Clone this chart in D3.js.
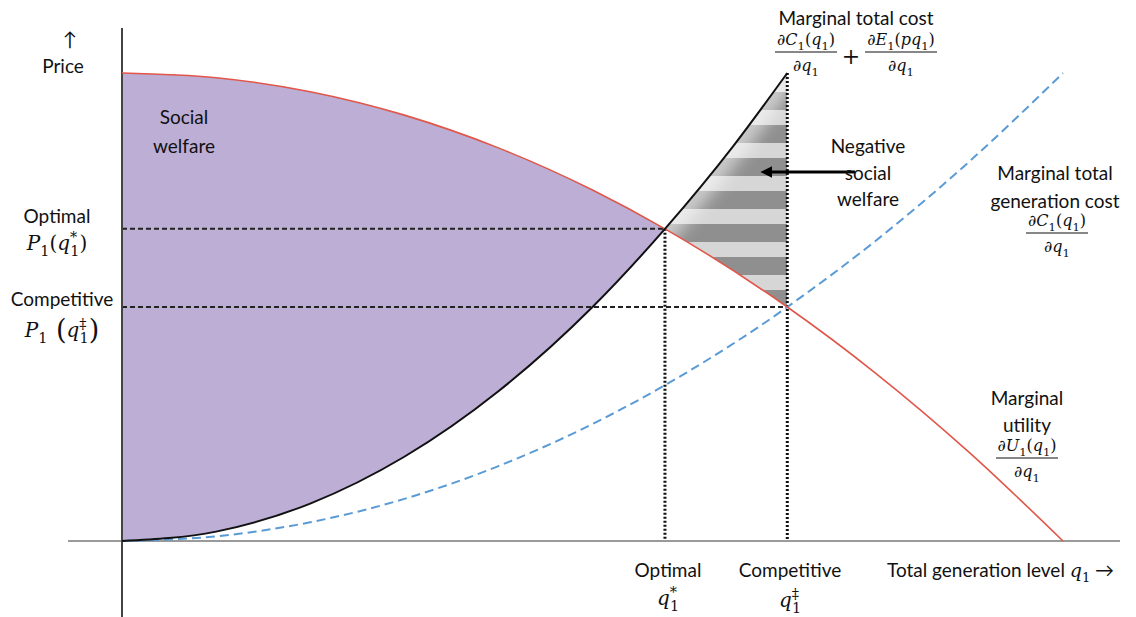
<!DOCTYPE html>
<html>
<head>
<meta charset="utf-8">
<script src="https://d3js.org/d3.v7.min.js"></script>
<style>
  body { margin: 0; background: #fff; }
  text { font-family: Lato, "Open Sans", sans-serif; fill: #111; }
</style>
</head>
<body>
<script>
'use strict';
var WIDTH = 1136, HEIGHT = 617;

// curve points (quantity q, price p)
var qUtility   = [0, 1, 2, 3, 4, 5, 5.77, 7.07, 8, 9, 10];
var pUtility   = [10, 9.9, 9.6, 9.1, 8.4, 7.5, 6.67, 5.0, 3.6, 1.9, 0];
var qTotalCost = [0, 1, 2, 3, 4, 5, 5.77, 6.5, 7.07];
var pTotalCost = [0, 0.2, 0.8, 1.8, 3.2, 5.0, 6.67, 8.45, 10.0];
var qGenCost   = [0, 1, 2, 3, 4, 5, 6, 7, 7.07, 8, 9, 10];
var pGenCost   = [0, 0.1, 0.4, 0.9, 1.6, 2.5, 3.6, 4.9, 5.0, 6.4, 8.1, 10];

var qOptimal = 5.77, pOptimal = 6.67;
var qCompetitive = 7.07, pCompetitive = 5.0;

var svg = d3.select('body').append('svg')
  .attr('width', WIDTH).attr('height', HEIGHT);

var x = d3.scaleLinear().domain([0, 10]).range([122, 1063]);
var y = d3.scaleLinear().domain([0, 10]).range([541, 73]);

function pts(qs, ps) { return qs.map(function (q, i) { return [q, ps[i]]; }); }
var utility = pts(qUtility, pUtility),
    totalCost = pts(qTotalCost, pTotalCost),
    genCost = pts(qGenCost, pGenCost);

var line = d3.line()
  .x(function (d) { return x(d[0]); })
  .y(function (d) { return y(d[1]); })
  .curve(d3.curveMonotoneX);

var defs = svg.append('defs');

// region below / above marginal utility
defs.append('clipPath').attr('id', 'belowU').append('path')
  .attr('d', line(utility) + 'L' + x(0) + ',' + y(0) + 'Z');
defs.append('clipPath').attr('id', 'aboveU').append('path')
  .attr('d', line(utility) + 'L' + x(10) + ',0L' + x(0) + ',0Z');

var costTop = line(totalCost);
var stripeArea = costTop + 'L' + x(qCompetitive) + ',' + y(0) + 'L' + x(qOptimal) + ',' + y(0) + 'Z';
defs.append('clipPath').attr('id', 'belowCost').append('path').attr('d', stripeArea);

// stripes
var pat = defs.append('pattern').attr('id', 'stripes')
  .attr('patternUnits', 'userSpaceOnUse')
  .attr('x', 0).attr('y', 11).attr('width', WIDTH).attr('height', 33);
pat.append('rect').attr('x', 0).attr('y', 0).attr('width', WIDTH).attr('height', 15)
  .attr('fill', '#d6d6d6');
pat.append('rect').attr('x', 0).attr('y', 15).attr('width', WIDTH).attr('height', 18)
  .attr('fill', '#8f8f8f');

defs.append('filter').attr('id', 'soft')
  .attr('x', '-50%').attr('y', '-50%').attr('width', '200%').attr('height', '200%')
  .append('feGaussianBlur').attr('stdDeviation', 8);

// social welfare (purple)
svg.append('g').attr('clip-path', 'url(#belowU)')
  .append('path')
  .attr('d', costTop + 'L' + x(qOptimal) + ',0L' + x(0) + ',0Z')
  .attr('fill', '#bdaed6');

// negative social welfare (stripes, faded near the cost curve)
var neg = svg.append('g').attr('clip-path', 'url(#aboveU)')
  .append('g').attr('clip-path', 'url(#belowCost)');
neg.append('path').attr('d', stripeArea).attr('fill', 'url(#stripes)');
neg.append('path').attr('d', costTop).attr('fill', 'none')
  .attr('stroke', '#fff').attr('stroke-width', 26).attr('stroke-opacity', 0.55)
  .attr('filter', 'url(#soft)');

// guide lines
svg.append('line')
  .attr('x1', x(0)).attr('x2', x(qOptimal)).attr('y1', y(pOptimal)).attr('y2', y(pOptimal))
  .attr('stroke', '#222').attr('stroke-width', 2).attr('stroke-dasharray', '5,3');
svg.append('line')
  .attr('x1', x(0)).attr('x2', x(qCompetitive)).attr('y1', y(pCompetitive)).attr('y2', y(pCompetitive))
  .attr('stroke', '#222').attr('stroke-width', 2).attr('stroke-dasharray', '5,3');
svg.append('line')
  .attr('x1', x(qOptimal)).attr('x2', x(qOptimal)).attr('y1', y(pOptimal)).attr('y2', y(0))
  .attr('stroke', '#111').attr('stroke-width', 3).attr('stroke-dasharray', '2,2');
svg.append('line')
  .attr('x1', x(qCompetitive)).attr('x2', x(qCompetitive)).attr('y1', y(10)).attr('y2', y(0))
  .attr('stroke', '#111').attr('stroke-width', 3).attr('stroke-dasharray', '2,2');

// axes
svg.append('line').attr('x1', 68).attr('x2', 1120).attr('y1', y(0)).attr('y2', y(0))
  .attr('stroke', '#9a9a9a').attr('stroke-width', 2);
svg.append('line').attr('x1', x(0)).attr('x2', x(0)).attr('y1', 28).attr('y2', HEIGHT)
  .attr('stroke', '#444').attr('stroke-width', 2);

// curves
svg.append('path').attr('d', line(genCost)).attr('fill', 'none')
  .attr('stroke', '#5b9bd5').attr('stroke-width', 2).attr('stroke-dasharray', '9,5');
svg.append('path').attr('d', line(utility)).attr('fill', 'none')
  .attr('stroke', '#e0574a').attr('stroke-width', 1.6);
svg.append('path').attr('d', line(totalCost)).attr('fill', 'none')
  .attr('stroke', '#111').attr('stroke-width', 2);

// arrow
defs.append('marker').attr('id', 'arrow')
  .attr('viewBox', '0 0 10 10').attr('refX', 2).attr('refY', 5)
  .attr('markerWidth', 4).attr('markerHeight', 4).attr('orient', 'auto')
  .append('path').attr('d', 'M0,0L10,5L0,10Z').attr('fill', '#000');
svg.append('line').attr('x1', 855).attr('x2', 770).attr('y1', 172).attr('y2', 172)
  .attr('stroke', '#000').attr('stroke-width', 3).attr('marker-end', 'url(#arrow)');

// text helpers
function label(lines, cx, y0, dy, anchor) {
  lines.forEach(function (t, i) {
    svg.append('text').attr('x', cx).attr('y', y0 + i * (dy || 0))
      .attr('text-anchor', anchor || 'middle')
      .style('font-size', '19px').text(t);
  });
}

function math(cx, yb, parts, size, anchor) {
  var t = svg.append('text').attr('x', cx).attr('y', yb)
    .attr('text-anchor', anchor || 'middle')
    .style('font-family', '"DejaVu Serif", serif')
    .style('font-size', size + 'px');
  var shift = 0;
  parts.forEach(function (p) {
    var txt = p[0], kind = p[1], dx = p[2] || 0;
    var ts = t.append('tspan').text(txt);
    var target = 0, fs = size;
    if (kind === 'i') ts.style('font-style', 'italic');
    if (kind === 's') { target = size * 0.3; fs = size * 0.72; }
    if (kind === 'p') { target = -size * 0.42; fs = size * 0.72; }
    if (kind === 'b') { target = size * 0.08; fs = size * 1.35; }
    ts.attr('dy', target - shift).style('font-size', fs + 'px');
    if (dx) ts.attr('dx', dx);
    shift = target;
  });
  return t;
}

function frac(cx, yNum, num, den, size, w) {
  math(cx, yNum, num, size);
  svg.append('line').attr('x1', cx - w / 2).attr('x2', cx + w / 2)
    .attr('y1', yNum + 7).attr('y2', yNum + 7)
    .attr('stroke', '#111').attr('stroke-width', 1.2);
  math(cx, yNum + 26, den, size);
}

var dq1 = [['∂', 'n'], ['q', 'i'], ['1', 's']];

// labels
label(['↑'], 70, 46);
label(['Price'], 63, 73);
label(['Social', 'welfare'], 184, 124, 29);
label(['Optimal'], 57, 223);
math(57, 250, [['P', 'i'], ['1', 's'], ['(', 'n'], ['q', 'i'], ['*', 'p'], ['1', 's', -7], [')', 'n']], 20);
label(['Competitive'], 62, 306);
math(62, 337, [['P', 'i'], ['1', 's'], [' (', 'b'], ['q', 'i'], ['‡', 'p'], ['1', 's', -7], [')', 'b']], 20);

label(['Negative', 'social', 'welfare'], 868, 153, 26.5);

label(['Marginal total cost'], 856, 25);
frac(806, 45, [['∂', 'n'], ['C', 'i'], ['1', 's'], ['(', 'n'], ['q', 'i'], ['1', 's'], [')', 'n']], dq1, 16, 62);
svg.append('text').attr('x', 851).attr('y', 64).attr('text-anchor', 'middle')
  .style('font-family', '"DejaVu Serif", serif').style('font-size', '22px').text('+');
frac(901, 45, [['∂', 'n'], ['E', 'i'], ['1', 's'], ['(', 'n'], ['p', 'i'], ['q', 'i'], ['1', 's'], [')', 'n']], dq1, 16, 72);

label(['Marginal total', 'generation cost'], 1055, 180, 28);
frac(1057, 226, [['∂', 'n'], ['C', 'i'], ['1', 's'], ['(', 'n'], ['q', 'i'], ['1', 's'], [')', 'n']], dq1, 16, 62);

label(['Marginal', 'utility'], 1027, 405, 27);
frac(1027, 451, [['∂', 'n'], ['U', 'i'], ['1', 's'], ['(', 'n'], ['q', 'i'], ['1', 's'], [')', 'n']], dq1, 16, 62);

label(['Optimal'], 668, 577);
math(668, 605, [['q', 'i'], ['*', 'p'], ['1', 's', -7]], 20);
label(['Competitive'], 790, 577);
math(790, 607, [['q', 'i'], ['‡', 'p'], ['1', 's', -7]], 20);

var tg = svg.append('text').attr('x', 887).attr('y', 577).style('font-size', '19px');
tg.append('tspan').text('Total generation level ');
tg.append('tspan').style('font-family', '"DejaVu Serif", serif').style('font-style', 'italic').text('q');
tg.append('tspan').attr('dy', 5).style('font-family', '"DejaVu Serif", serif').style('font-size', '13px').text('1');
tg.append('tspan').attr('dy', -5).text(' →');
</script>
</body>
</html>
